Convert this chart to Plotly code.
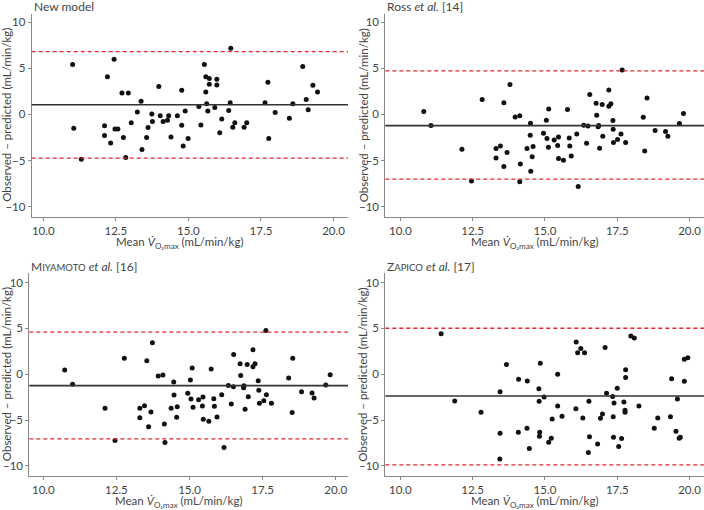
"""Bland-Altman plots: observed minus predicted VO2max for four models."""

import plotly.graph_objects as go

W, H = 704, 510

new_model_mean = [11.01, 11.05, 11.31, 12.21, 12.11, 12.11, 12.32, 12.44, 12.47, 12.57,
                  12.71, 12.76, 12.84, 12.93, 13.03, 13.24, 13.37, 13.40, 13.56, 13.61,
                  13.74, 13.76, 13.98, 14.03, 14.13, 14.28, 14.32, 14.40, 14.62, 14.77,
                  14.77, 14.82, 14.89, 14.99, 15.36, 15.43, 15.55, 15.60, 15.60, 15.63,
                  15.67, 15.72, 15.72, 15.91, 15.98, 15.98, 16.08, 16.15, 16.39, 16.44,
                  16.46, 16.53, 16.60, 16.92, 17.01, 17.64, 17.74, 17.77, 17.99, 18.48,
                  18.60, 18.94, 19.06, 19.13, 19.29, 19.45]
new_model_diff = [5.41, -1.50, -4.86, 4.10, -1.24, -2.29, -3.09, 5.98, -1.57, -1.57,
                  2.33, -2.51, -4.68, 2.33, -0.89, 0.27, 1.43, -3.82, -2.51, -1.43,
                  0.05, -0.78, 3.02, -0.13, -0.78, -0.64, -0.13, -2.44, -0.13, 2.62,
                  -1.17, -3.42, 0.38, -2.62, 0.85, -1.14, 5.41, 2.44, 4.10, 1.17,
                  0.38, 3.89, 3.27, 0.74, 3.81, 3.20, -2.00, -0.49, 0.42, 1.28,
                  7.18, -1.39, -0.89, -1.39, -0.89, 1.28, 3.49, -2.62, 0.20, -0.42,
                  1.17, 5.19, 1.63, 0.51, 3.16, 2.44]
new_model_limits = [1.05, -4.75, 6.82]

ross_mean = [10.81, 11.06, 12.13, 12.46, 12.83, 13.31, 13.31, 13.46, 13.58, 13.58,
             13.69, 13.79, 13.97, 14.13, 14.15, 14.13, 14.38, 14.49, 14.50, 14.51,
             14.56, 14.59, 14.95, 15.05, 15.07, 15.13, 15.12, 15.32, 15.44, 15.47,
             15.47, 15.64, 15.78, 15.84, 15.86, 15.91, 16.10, 16.15, 16.34, 16.44,
             16.49, 16.55, 16.77, 16.79, 16.84, 16.86, 16.89, 16.98, 17.00, 17.21,
             17.21, 17.28, 17.35, 17.36, 17.37, 17.51, 17.63, 17.67, 17.79, 18.40,
             18.45, 18.53, 18.81, 19.17, 19.25, 19.65, 19.79]
ross_diff = [0.31, -1.21, -3.78, -7.22, 1.61, -3.71, -4.72, -3.42, 1.28, -5.66,
             -4.13, 3.24, -0.27, -0.13, -5.37, -7.32, -3.71, -2.26, -0.96, -6.17,
             -4.58, -3.49, -2.05, -0.64, -2.62, 0.60, -3.56, -2.77, -3.38, -2.44,
             -4.79, -4.97, 0.53, -2.55, -3.42, -4.50, -2.12, -7.83, -1.17, -3.13,
             -1.25, 2.15, 1.21, -0.09, -1.35, -1.21, -3.67, 1.07, -2.37, 2.66,
             0.89, 1.17, -0.67, -1.61, -3.06, -2.73, -2.12, 4.83, -3.06, -0.31,
             -3.96, 1.79, -1.75, -1.86, -2.37, -0.99, 0.09]
ross_limits = [-1.21, -7.03, 4.72]

miyamoto_mean = [10.73, 11.00, 12.11, 12.45, 12.77, 13.30, 13.30, 13.46, 13.54, 13.60,
                 13.68, 13.73, 13.93, 14.09, 14.14, 14.16, 14.37, 14.46, 14.47, 14.56,
                 14.58, 14.94, 15.03, 15.05, 15.09, 15.12, 15.31, 15.44, 15.46, 15.47,
                 15.66, 15.74, 15.83, 15.85, 15.94, 16.10, 16.18, 16.33, 16.43, 16.50,
                 16.51, 16.73, 16.75, 16.85, 16.86, 16.90, 16.97, 17.01, 17.17, 17.17,
                 17.24, 17.35, 17.37, 17.39, 17.54, 17.63, 17.61, 17.80, 18.39, 18.51,
                 18.53, 18.83, 19.19, 19.26, 19.66, 19.81]
miyamoto_diff = [0.45, -1.11, -3.72, -7.24, 1.75, -3.72, -4.74, -3.43, 1.47, -5.72,
                 -4.12, 3.43, -0.20, -0.09, -5.43, -7.46, -3.72, -0.85, -2.27, -4.70,
                 -3.54, -2.08, -0.63, -2.70, 0.67, -3.61, -2.78, -3.47, -2.49, -4.92,
                 -5.14, 0.56, -2.67, -3.50, -4.66, -2.23, -8.00, -1.22, -3.25, -1.36,
                 2.16, 1.14, -0.13, -1.47, -1.25, -3.83, 1.07, -2.45, 2.66, 0.81,
                 1.14, -0.71, -1.76, -3.18, -2.89, -2.23, 4.77, -3.18, -0.42, -4.19,
                 1.75, -1.91, -2.05, -2.60, -1.18, -0.05]
miyamoto_limits = [-1.25, -7.06, 4.59]

zapico_mean = [11.41, 11.88, 12.79, 13.45, 13.45, 13.44, 13.67, 14.09, 14.08, 14.39,
               14.38, 14.46, 14.79, 14.80, 14.82, 14.81, 14.84, 14.97, 15.22, 15.25,
               15.13, 15.44, 15.44, 15.59, 16.08, 16.13, 16.24, 16.37, 16.07, 16.31,
               16.52, 16.54, 16.50, 16.82, 16.92, 16.99, 17.08, 17.13, 17.34, 17.36,
               17.37, 17.39, 17.50, 17.55, 17.65, 17.73, 17.77, 17.77, 17.79, 17.79,
               17.97, 18.09, 18.25, 18.78, 18.90, 19.34, 19.38, 19.53, 19.58, 19.64,
               19.68, 19.82, 19.82, 19.94]
zapico_diff = [4.41, -2.92, -4.16, -1.91, -6.44, -9.24, 1.07, -0.56, -6.33, -0.74,
               -5.90, -8.11, -1.58, -2.96, -6.33, -6.77, 1.18, -2.49, -6.99, -4.88,
               -7.42, -0.02, -3.47, -4.59, 3.50, 2.34, 2.81, 2.34, -3.76, -4.77,
               -2.96, -6.81, -8.55, -7.60, -4.81, -4.34, 2.92, -2.09, -2.42, -4.63,
               -6.88, -3.14, -1.54, -7.89, -7.02, -3.03, -3.94, -4.16, 0.49, -0.35,
               4.16, 3.94, -3.47, -5.90, -4.77, -4.63, -0.49, -6.22, -2.70, -6.99,
               -6.88, -0.78, 1.62, 1.80]
zapico_limits = [-2.38, -9.89, 5.01]

panel_titles = [
    "New model",
    "Ross <i>et al.</i> [14]",
    "M<span style='font-size:9.5px'>IYAMOTO</span> <i>et al.</i> [16]",
    "Z<span style='font-size:9.5px'>APICO</span> <i>et al.</i> [17]",
]
x_ticks = [10.0, 12.5, 15.0, 17.5, 20.0]
y_ticks = [-10, -5, 0, 5, 10]
x_title = "Mean <i>V̇</i><sub>O₂max</sub> (mL/min/kg)"
y_title = "Observed – predicted (mL/min/kg)"

FONT = "Lato, Noto Sans, sans-serif"
TEXT = "#444444"
AXIS = "#888888"

# per panel: pixel box (left, right, top, bottom), x range, y range, y-title x
panels = [
    ((31.7, 348, 14, 216.7), [9.6, 20.5], [-11.1, 10.9], 6.5),
    ((385.3, 704, 14, 216.7), [9.48, 20.5], [-11.1, 10.9], 363),
    ((29.3, 348, 273.3, 476), [9.52, 20.42], [-11.1, 11.0], 6.5),
    ((385.3, 704, 273.3, 476), [9.48, 20.5], [-11.1, 11.0], 363),
]

series = [
    (new_model_mean, new_model_diff, new_model_limits),
    (ross_mean, ross_diff, ross_limits),
    (miyamoto_mean, miyamoto_diff, miyamoto_limits),
    (zapico_mean, zapico_diff, zapico_limits),
]


def label(text, x, y, size=12, **kw):
    return dict(text=text, xref="paper", yref="paper", x=x / W, y=1 - y / H,
                showarrow=False, font=dict(size=size, color=TEXT, family=FONT), **kw)


fig = go.Figure()
shapes = []
annotations = []

for i, ((xs, ys, limits), panel, title) in enumerate(zip(series, panels, panel_titles)):
    n = "" if i == 0 else str(i + 1)
    xa, ya = "x" + n, "y" + n
    (left, right, top, bottom), x_range, y_range, y_title_x = panel

    fig.add_trace(go.Scatter(
        x=xs, y=ys, mode="markers", xaxis=xa, yaxis=ya,
        marker=dict(color="#111111", size=5), showlegend=False, cliponaxis=False,
    ))

    mean, lower, upper = limits
    shapes.append(dict(type="line", xref=xa + " domain", yref=ya, x0=0, x1=1,
                       y0=mean, y1=mean, line=dict(color="#333333", width=1.6)))
    for lim in (lower, upper):
        shapes.append(dict(type="line", xref=xa + " domain", yref=ya, x0=0, x1=1,
                           y0=lim, y1=lim,
                           line=dict(color="#e8262a", width=1.3, dash="4px,3px")))

    axis_common = dict(
        showline=True, linecolor=AXIS, linewidth=1, showgrid=False, zeroline=False,
        ticks="outside", ticklen=3, tickcolor=AXIS, automargin=False,
        tickfont=dict(size=11.5, color=TEXT, family=FONT),
    )
    fig.update_layout({
        ("xaxis" + n): dict(
            axis_common, domain=[left / W, right / W], range=x_range,
            tickvals=x_ticks, tickformat=".1f", anchor=ya,
        ),
        ("yaxis" + n): dict(
            axis_common, domain=[1 - bottom / H, 1 - top / H], range=y_range,
            tickvals=y_ticks, anchor=xa,
        ),
    })

    annotations.append(label(title, left, top - 7, xanchor="left", yanchor="middle"))
    annotations.append(label(x_title, (left + right) / 2 - 10, bottom + 26, size=11.5,
                             xanchor="center", yanchor="middle"))
    annotations.append(label(y_title, y_title_x, (top + bottom) / 2, size=11.5,
                             xanchor="center", yanchor="middle", textangle=-90))

fig.update_layout(
    width=W, height=H,
    margin=dict(l=0, r=0, t=0, b=0),
    paper_bgcolor="white", plot_bgcolor="white",
    font=dict(family=FONT, color=TEXT),
    shapes=shapes, annotations=annotations,
)

# the page body has a default 8px margin; drop it so the figure sits at the origin
fig.write_html("out.html", config={"displayModeBar": False},
               post_script="document.body.style.margin = '0';")
